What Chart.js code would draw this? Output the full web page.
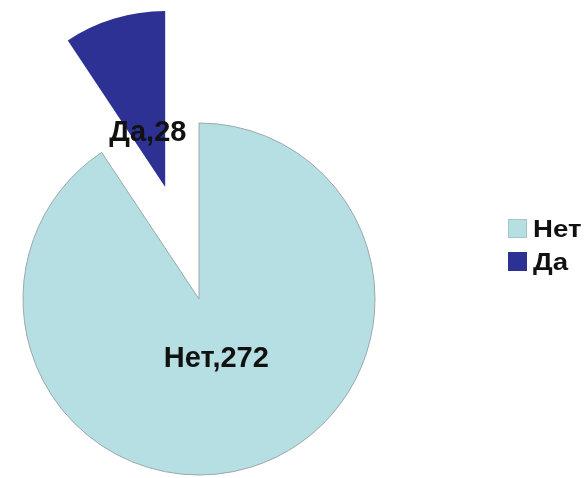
<!DOCTYPE html>
<html>
<head>
<meta charset="utf-8">
<script src="https://cdn.jsdelivr.net/npm/chart.js@4/dist/chart.umd.min.js"></script>
<style>
    html, body { margin: 0; padding: 0; background: #fff; overflow: hidden; }
    #wrap { position: relative; width: 588px; height: 478px; overflow: hidden; }
    #pieChart { position: absolute; left: 0; top: 0; }
    #legend { position: absolute; left: 508px; top: 212px; font: bold 24px "Liberation Sans", Arial, sans-serif; color: #111; }
    #legend div { display: flex; align-items: center; height: 33px; }
    #legend span.box { display: inline-block; width: 19px; height: 19px; margin-right: 6px; box-sizing: border-box; }
    #legend span.txt { display: inline-block; transform: scaleX(1.15); transform-origin: left center; }
</style>
</head>
<body>
<div id="wrap">
    <canvas id="pieChart" width="588" height="478"></canvas>
    <div id="legend"></div>
</div>
<script>
const categories = ['Нет', 'Да'];
const answers = [272, 28];
const sliceColors = ['#b5dfe3', '#2e3194'];
const sliceBorders = ['#9aa8ab', 'rgba(0,0,0,0)'];
const pullOut = [0, 117]; // px each slice is pulled away from the centre

// legend
const legendEl = document.getElementById('legend');
categories.forEach((cat, i) => {
    const row = document.createElement('div');
    const box = document.createElement('span');
    box.className = 'box';
    box.style.background = sliceColors[i];
    if (i === 0) box.style.border = '1px solid #a9c3c6';
    const txt = document.createElement('span');
    txt.className = 'txt';
    txt.textContent = cat;
    row.appendChild(box);
    row.appendChild(txt);
    legendEl.appendChild(row);
});

// move exploded slices out along their middle angle
const explodeSlices = {
    id: 'explodeSlices',
    afterDatasetsUpdate(chart) {
        chart.getDatasetMeta(0).data.forEach((arc, i) => {
            const e = pullOut[i] || 0;
            if (!e) return;
            const mid = (arc.startAngle + arc.endAngle) / 2;
            arc.x += Math.cos(mid) * e;
            arc.y += Math.sin(mid) * e;
        });
    }
};

// "label,value" text on each slice
const sliceLabels = {
    id: 'sliceLabels',
    afterDatasetsDraw(chart) {
        const meta = chart.getDatasetMeta(0);
        const ctx = chart.ctx;
        ctx.save();
        ctx.font = 'bold 29px "Liberation Sans", Arial, sans-serif';
        ctx.fillStyle = '#111';
        ctx.textAlign = 'center';
        ctx.textBaseline = 'middle';
        meta.data.forEach((arc, i) => {
            const mid = (arc.startAngle + arc.endAngle) / 2;
            const d = arc.outerRadius * 0.34;
            ctx.fillText(categories[i] + ',' + answers[i], arc.x + Math.cos(mid) * d, arc.y + Math.sin(mid) * d + 3);
        });
        ctx.restore();
    }
};

new Chart(document.getElementById('pieChart').getContext('2d'), {
    type: 'pie',
    data: {
        labels: categories,
        datasets: [{
            data: answers,
            backgroundColor: sliceColors,
            borderColor: sliceBorders,
            borderWidth: 1,
            clip: false
        }]
    },
    options: {
        responsive: false,
        animation: false,
        radius: 176,
        layout: { padding: { top: 120, right: 190, left: 0, bottom: 0 } },
        plugins: {
            legend: { display: false },
            tooltip: { enabled: false }
        }
    },
    plugins: [explodeSlices, sliceLabels]
});
</script>
</body>
</html>
